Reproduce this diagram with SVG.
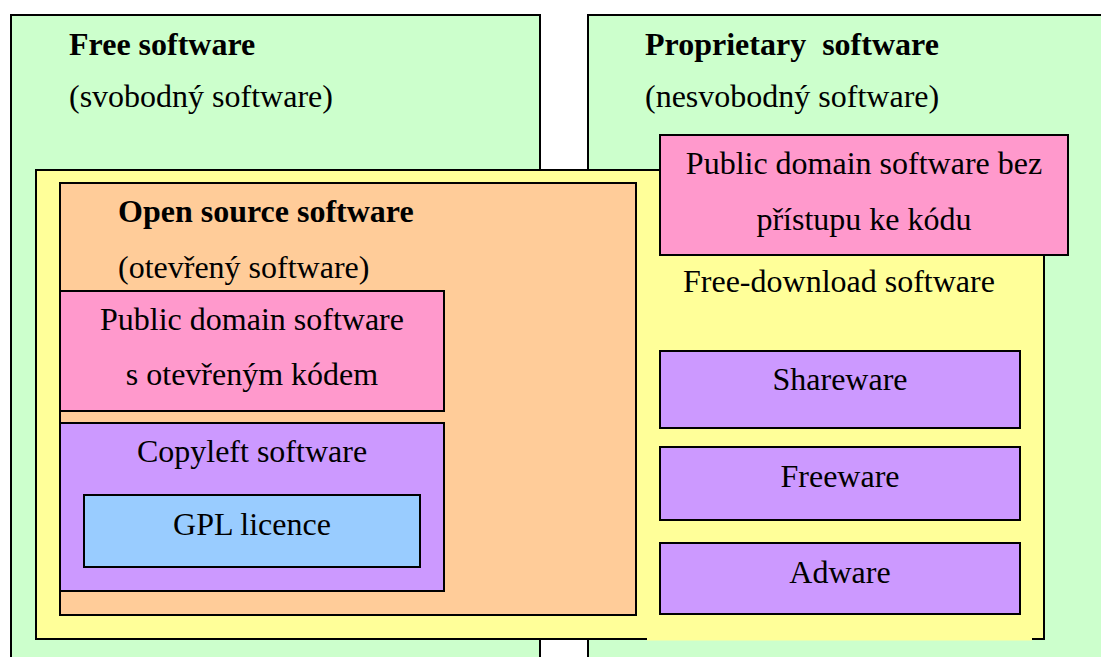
<svg xmlns="http://www.w3.org/2000/svg" width="1101" height="657" viewBox="0 0 1101 657" font-family="'Liberation Serif', 'Times New Roman', 'DejaVu Serif', serif">
  <style>
    .box { stroke: #000; stroke-width: 2; }
    .green { fill: #CCFFCC; }
    .yellow { fill: #FFFF99; }
    .orange { fill: #FFCC99; }
    .pink { fill: #FF99CC; }
    .purple { fill: #CC99FF; }
    .blue { fill: #99CCFF; }
    text { font-family: 'Liberation Serif', 'Times New Roman', 'DejaVu Serif', serif; font-size: 32px; fill: #000; }
    .b { font-weight: bold; }
    .c { text-anchor: middle; }
  </style>
  <rect x="0" y="0" width="1101" height="657" fill="#FFFFFF"/>

  <g id="free-software">
    <rect class="box green" x="11" y="15" width="529" height="660"/>
    <text class="b" x="69" y="55">Free software</text>
    <text x="69" y="107">(svobodný software)</text>
  </g>

  <g id="proprietary-software">
    <rect class="box green" x="588" y="15" width="520" height="660"/>
    <text class="b" x="645" y="55" xml:space="preserve">Proprietary  software</text>
    <text x="645" y="107">(nesvobodný software)</text>
  </g>

  <g id="free-download">
    <rect class="box yellow" x="36" y="170" width="1008" height="469"/>
    <!-- open strip along the lower edge under the shareware column -->
    <rect class="yellow" x="647" y="616" width="385" height="24.5"/>
    <text x="683" y="292">Free-download software</text>
  </g>

  <g id="open-source">
    <rect class="box orange" x="60" y="183" width="576" height="432"/>
    <text class="b" x="118" y="222">Open source software</text>
    <text x="118" y="278">(otevřený software)</text>
  </g>

  <g id="public-domain-open">
    <rect class="box pink" x="60" y="291" width="384" height="120"/>
    <text class="c" x="252" y="330">Public domain software</text>
    <text class="c" x="252" y="385">s otevřeným kódem</text>
  </g>

  <g id="copyleft">
    <rect class="box purple" x="60" y="423" width="384" height="168"/>
    <text class="c" x="252" y="462">Copyleft software</text>
  </g>

  <g id="gpl">
    <rect class="box blue" x="84" y="495" width="336" height="72"/>
    <text class="c" x="252" y="535">GPL licence</text>
  </g>

  <g id="public-domain-closed">
    <rect class="box pink" x="660" y="135" width="408" height="120"/>
    <text class="c" x="864" y="174">Public domain software bez</text>
    <text class="c" x="864" y="230">přístupu ke kódu</text>
  </g>

  <g id="shareware">
    <rect class="box purple" x="660" y="351" width="360" height="77"/>
    <text class="c" x="840" y="390">Shareware</text>
  </g>

  <g id="freeware">
    <rect class="box purple" x="660" y="447" width="360" height="73"/>
    <text class="c" x="840" y="487">Freeware</text>
  </g>

  <g id="adware">
    <rect class="box purple" x="660" y="543" width="360" height="71"/>
    <text class="c" x="840" y="583">Adware</text>
  </g>

  <g id="connectors"/>
</svg>
